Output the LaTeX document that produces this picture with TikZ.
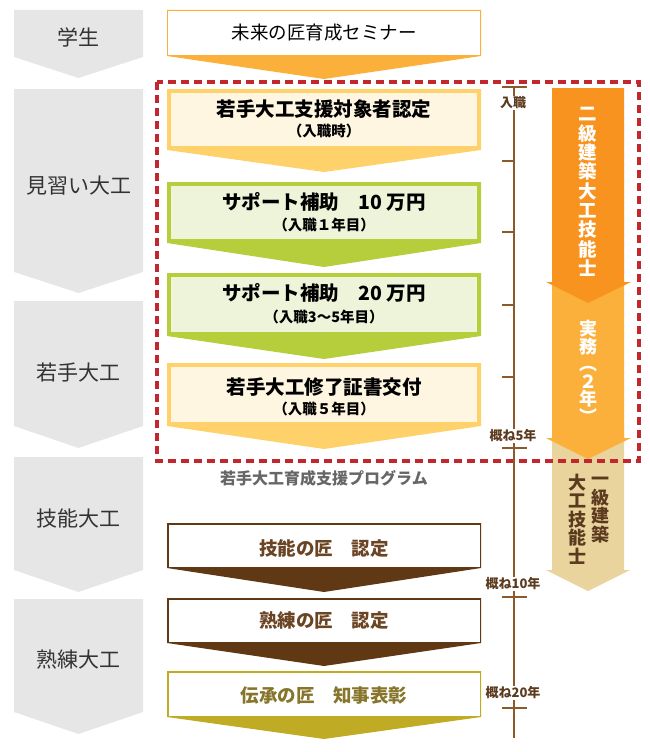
\documentclass[tikz,border=0pt]{standalone}
\usepackage{fontspec}
\setmainfont{Noto Sans CJK JP}

\definecolor{stagegray}{HTML}{E6E6E6}
\definecolor{stagetext}{HTML}{333333}
\definecolor{seminarorange}{HTML}{FBB03B}
\definecolor{yellowedge}{HTML}{FED16B}
\definecolor{yellowin}{HTML}{FFF6E1}
\definecolor{greenedge}{HTML}{B6CD3C}
\definecolor{greenin}{HTML}{EEF4D9}
\definecolor{darkbrown}{HTML}{603813}
\definecolor{brownedge}{HTML}{5E3714}
\definecolor{browntext}{HTML}{6B4423}
\definecolor{oliveedge}{HTML}{BFAC24}
\definecolor{olivetext}{HTML}{86752B}
\definecolor{dashred}{HTML}{C1272D}
\definecolor{skillorange}{HTML}{F7931E}
\definecolor{skilltan}{HTML}{E8D49C}
\definecolor{lineBrown}{HTML}{8B5A2B}
\definecolor{yeartext}{HTML}{5B3A1E}

\tikzset{
  stagelabel/.style={text=stagetext,font=\fontsize{21}{24}\selectfont},
  boxtitle/.style={text=black,font=\bfseries\fontsize{19.5}{22}\selectfont},
  boxsub/.style={text=black,font=\bfseries\fontsize{14.5}{17}\selectfont},
  masterlabel/.style={font=\bfseries\fontsize{18.5}{21}\selectfont},
  yearlabel/.style={text=yeartext,fill=white,inner sep=1pt,
    font=\bfseries\fontsize{13}{15}\selectfont},
  vtext/.style={align=center,inner sep=0pt,font=\bfseries\fontsize{18.5}{19.3}\selectfont},
  timeline/.style={draw=lineBrown,line width=1.2pt}
}

\begin{document}
\begin{tikzpicture}[x=1pt,y=-1pt]
\useasboundingbox (0,0) rectangle (650,752);

% left column: stages
\foreach \t/\b/\p in {10/57/78,89/272/293,301/426/448,457/570/592,599/712/734}
  \fill[stagegray] (14,\t) -- (143,\t) -- (143,\b) -- (78.5,\p) -- (14,\b) -- cycle;
\draw (78.5,37) node[stagelabel] (student) {学生};
\draw (78.5,186) node[stagelabel] (apprentice) {見習い大工};
\draw (78.5,372) node[stagelabel] (young) {若手大工};
\draw (78.5,519) node[stagelabel] (skilled) {技能大工};
\draw (78.5,660) node[stagelabel] (expert) {熟練大工};

% middle column: steps
\foreach \t/\b/\p/\e/\f/\w in {10/56/79/seminarorange/white/1.2,
    89/150/172/yellowedge/yellowin/4,
    182/243/267/greenedge/greenin/4,
    273/336/359/greenedge/greenin/4,
    363/426/449/yellowedge/yellowin/4,
    523/568/592/darkbrown/white/1.5,
    598/643/666/darkbrown/white/1.5,
    671/717/739/oliveedge/white/1.5}
{
  \fill[\e] (167,\t) -- (481,\t) -- (481,\b) -- (324,\p) -- (167,\b) -- cycle;
  \fill[\f] (167+\w,\t+\w) rectangle (481-\w,\b-\w);
}
\draw (324,33) node[text=black,font=\fontsize{18.5}{21}\selectfont] (seminar) {未来の匠育成セミナー};
\draw (324,109) node[boxtitle] (target) {若手大工支援対象者認定};
\draw (324,131) node[boxsub] (targetsub) {（入職時）};
\draw (324,202) node[boxtitle] (supportA) {サポート補助　10 万円};
\draw (324,225) node[boxsub] (supportAsub) {（入職１年目）};
\draw (324,293) node[boxtitle] (supportB) {サポート補助　20 万円};
\draw (324,317) node[boxsub] (supportBsub) {（入職3～5年目）};
\draw (324,387) node[boxtitle] (finish) {若手大工修了証書交付};
\draw (324,409) node[boxsub] (finishsub) {（入職５年目）};
\draw (324,478) node[text=black!60,font=\bfseries\fontsize{16}{18}\selectfont] (program) {若手大工育成支援プログラム};
\draw (324,548) node[masterlabel,text=browntext] (masterA) {技能の匠　認定};
\draw (324,621) node[masterlabel,text=browntext] (masterB) {熟練の匠　認定};
\draw (324,695) node[masterlabel,text=olivetext] (masterC) {伝承の匠　知事表彰};

% right column: licences
\fill[skilltan] (552,430) -- (624,430) -- (624,570) -- (630,570) -- (588,591)
  -- (546,570) -- (552,570) -- cycle;
\fill[seminarorange] (552,280) -- (624,280) -- (624,438) -- (631,438) -- (588,459)
  -- (546,438) -- (552,438) -- cycle;
\fill[skillorange] (552,88) -- (624,88) -- (624,282) -- (631,282) -- (588,303)
  -- (546,282) -- (552,282) -- cycle;
\draw (588,192) node[vtext,text=white] (second) {二\\級\\建\\築\\大\\工\\技\\能\\士};
\draw (588,372) node[vtext,text=white,font=\bfseries\fontsize{18}{17.5}\selectfont] (practice) {実\\務\\︵\\２\\年\\︶};
\draw (600,510) node[vtext,text=yeartext,font=\bfseries\fontsize{18}{18.5}\selectfont] (firstA) {一\\級\\建\\築};
\draw (577,519) node[vtext,text=yeartext,font=\bfseries\fontsize{18}{18.5}\selectfont] (firstB) {大\\工\\技\\能\\士};

% program frame
\draw[dashred,line width=3.5pt,dash pattern=on 8pt off 5pt] (157,82) rectangle (639,461);

% timeline
\coordinate (tstart) at (514,87);
\coordinate (tend) at (514,738);
\draw[timeline] (tstart) -- (tend);
\draw[timeline] (502,87) -- (527,87);
\foreach \y in {161,232,305,377}
  \draw[timeline] (502,\y) -- (514,\y);
\foreach \y in {448,597,708}
  \draw[timeline] (502,\y) -- (527,\y);
\draw (513,103) node[yearlabel] (entry) {入職};
\draw (513,436) node[yearlabel] (year5) {概ね5年};
\draw (513,584) node[yearlabel] (year10) {概ね10年};
\draw (513,693) node[yearlabel] (year20) {概ね20年};
\end{tikzpicture}
\end{document}
